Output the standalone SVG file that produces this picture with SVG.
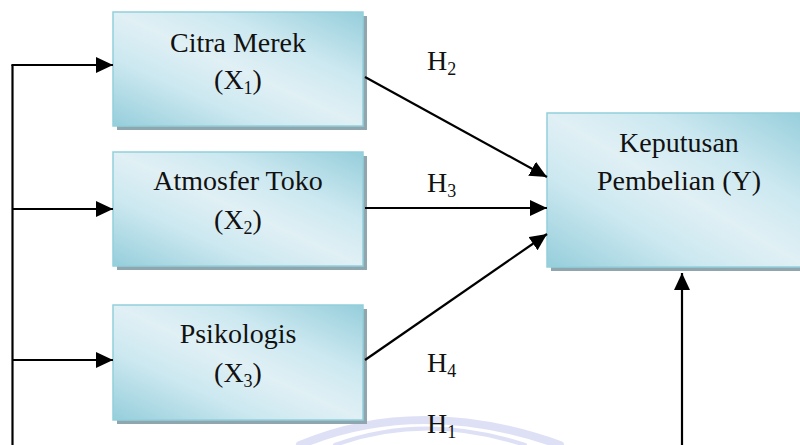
<svg xmlns="http://www.w3.org/2000/svg" width="800" height="445" viewBox="0 0 800 445">
  <style>
    .box { fill: url(#boxFill); stroke: #93cfdc; stroke-width: 1.5; }
    .shadow { fill: #8fa6ae; }
    .lbl { font-family: "Liberation Serif", "Times New Roman", serif; font-size: 28px; fill: #111; }
    .sub { font-size: 18px; }
    .edge { stroke: #000; stroke-width: 2.2; fill: none; }
    .mark { fill: none; stroke: #d3d6f3; stroke-linecap: round; }
  </style>
  <defs>
    <linearGradient id="boxFill" x1="0" y1="1" x2="1" y2="0">
      <stop offset="0" stop-color="#95cedb"/>
      <stop offset="0.3" stop-color="#cce8f0"/>
      <stop offset="0.5" stop-color="#e0f0f5"/>
      <stop offset="0.7" stop-color="#cce8f0"/>
      <stop offset="1" stop-color="#95cedb"/>
    </linearGradient>
    <marker id="arrow" markerUnits="userSpaceOnUse" markerWidth="18" markerHeight="16" refX="17" refY="8" orient="auto">
      <path d="M0,0 L17,8 L0,16 z" fill="#000"/>
    </marker>
  </defs>

  <rect width="800" height="445" fill="#fff"/>

  <!-- faint emblem in the background -->
  <g id="emblem" opacity="0.75">
    <path class="mark" stroke-width="8" d="M300,445 Q420,395 560,445"/>
    <path class="mark" stroke-width="4" d="M335,445 Q425,412 525,445" stroke="#e4e6f7"/>
  </g>

  <g id="x1">
    <rect class="shadow" x="117" y="16" width="250" height="114"/>
    <rect class="box" x="113" y="12" width="250" height="114"/>
    <text class="lbl" x="238" y="52" text-anchor="middle">Citra Merek</text>
    <text class="lbl" x="238" y="89" text-anchor="middle">(X<tspan class="sub" dy="5">1</tspan><tspan dy="-5">)</tspan></text>
  </g>

  <g id="x2">
    <rect class="shadow" x="117" y="156" width="250" height="114"/>
    <rect class="box" x="113" y="152" width="250" height="114"/>
    <text class="lbl" x="238" y="190" text-anchor="middle">Atmosfer Toko</text>
    <text class="lbl" x="238" y="229" text-anchor="middle">(X<tspan class="sub" dy="5">2</tspan><tspan dy="-5">)</tspan></text>
  </g>

  <g id="x3">
    <rect class="shadow" x="117" y="309" width="250" height="115"/>
    <rect class="box" x="113" y="305" width="250" height="115"/>
    <text class="lbl" x="238" y="343" text-anchor="middle">Psikologis</text>
    <text class="lbl" x="238" y="382" text-anchor="middle">(X<tspan class="sub" dy="5">3</tspan><tspan dy="-5">)</tspan></text>
  </g>

  <g id="y">
    <rect class="shadow" x="551" y="117" width="260" height="154"/>
    <rect class="box" x="547" y="113" width="260" height="154"/>
    <text class="lbl" x="679" y="152" text-anchor="middle">Keputusan</text>
    <text class="lbl" x="679" y="190" text-anchor="middle">Pembelian (Y)</text>
  </g>

  <g id="connectors">
    <path class="edge" d="M12.5,65 V445"/>
    <path class="edge" d="M11.4,65 H113" marker-end="url(#arrow)"/>
    <path class="edge" d="M12.5,209 H113" marker-end="url(#arrow)"/>
    <path class="edge" d="M12.5,360 H113" marker-end="url(#arrow)"/>
    <path class="edge" d="M365,77 L547,177" marker-end="url(#arrow)"/>
    <path class="edge" d="M365,208 H547" marker-end="url(#arrow)"/>
    <path class="edge" d="M365,360 L547,234" marker-end="url(#arrow)"/>
    <path class="edge" d="M682,445 V273" marker-end="url(#arrow)"/>
  </g>

  <g id="hypotheses">
    <text class="lbl" x="427" y="70">H<tspan class="sub" dy="5">2</tspan></text>
    <text class="lbl" x="427" y="192">H<tspan class="sub" dy="5">3</tspan></text>
    <text class="lbl" x="427" y="372">H<tspan class="sub" dy="5">4</tspan></text>
    <text class="lbl" x="427" y="433">H<tspan class="sub" dy="5">1</tspan></text>
  </g>
</svg>
